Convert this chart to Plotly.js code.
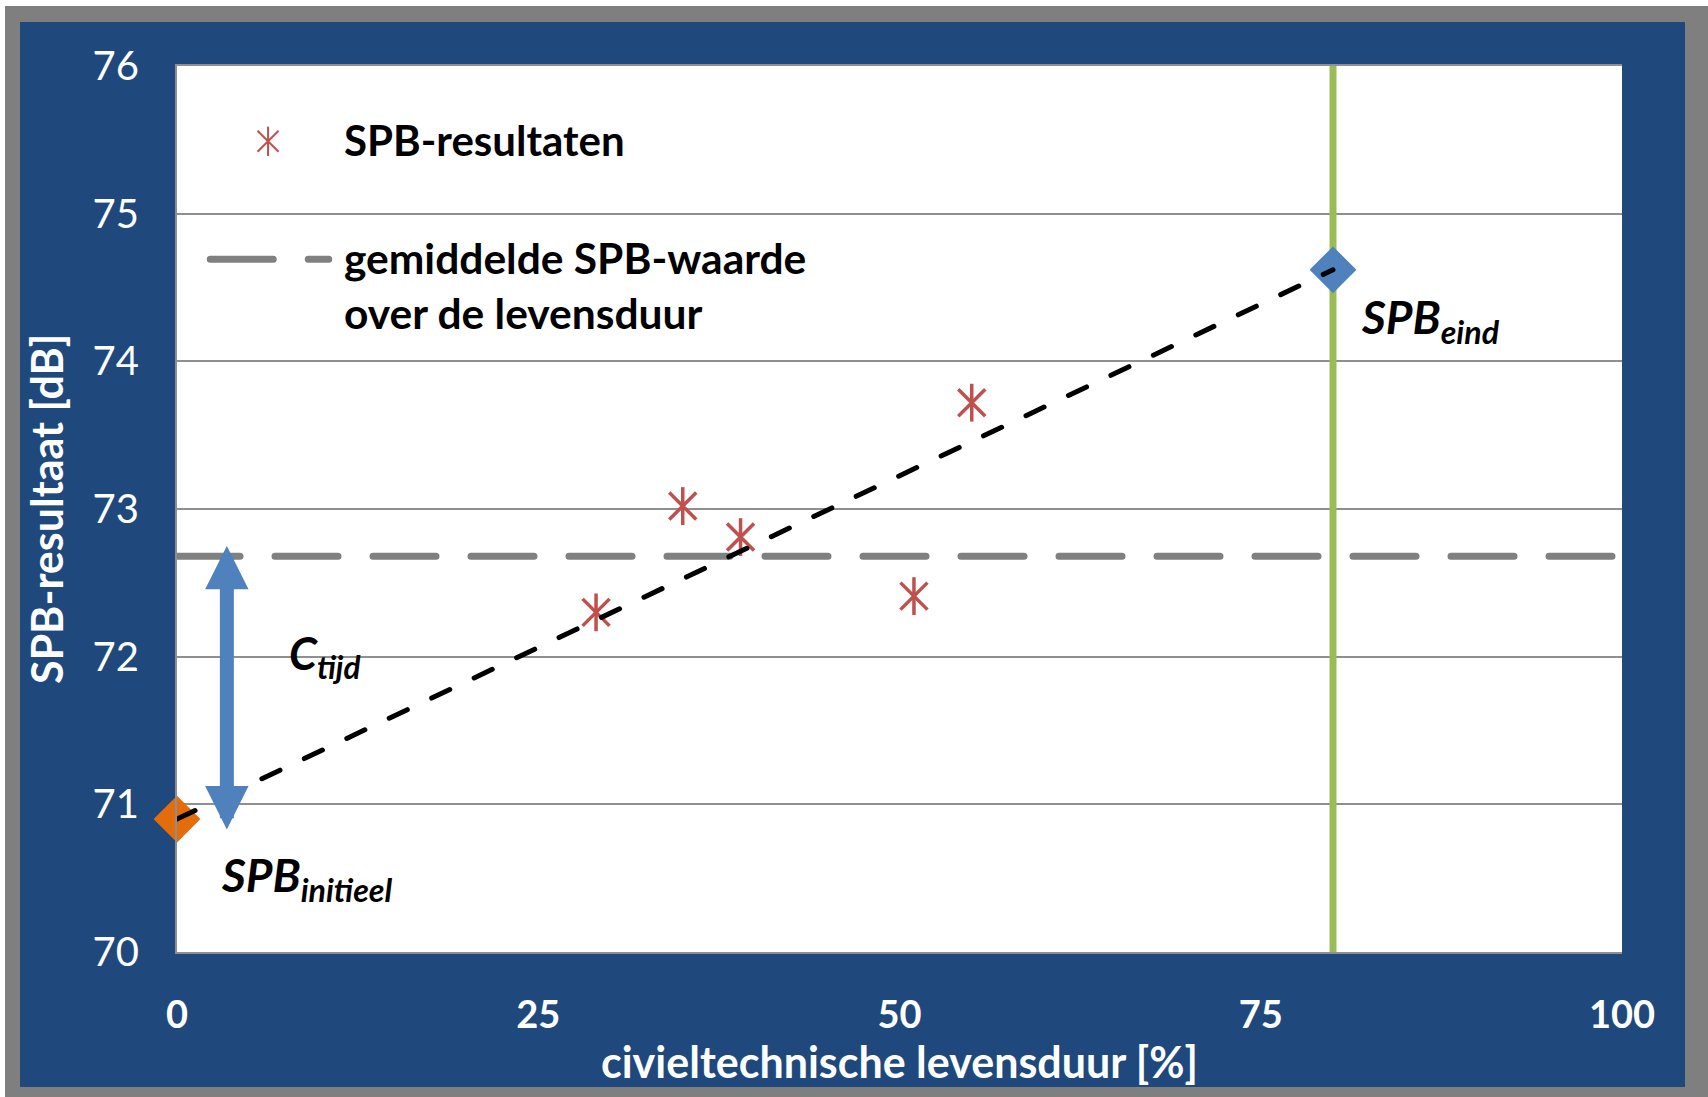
<!DOCTYPE html>
<html>
<head>
<meta charset="utf-8">
<script src="https://cdn.plot.ly/plotly-3.0.1.min.js"></script>
<style>
  html, body { margin: 0; padding: 0; background: #ffffff; width: 1708px; height: 1097px; overflow: hidden; }
  #frame { position: absolute; left: 5px; top: 6px; width: 1703px; height: 1091px; background: #7f7f7f; }
  #chart { position: absolute; left: 20px; top: 22px; width: 1665px; height: 1065px; }
  .js-line { stroke-linecap: round; }
</style>
</head>
<body>
<div id="frame"></div>
<div id="chart"></div>
<script>
// ---- data ----
const resultX = [29, 35, 39, 51, 55];               // civieltechnische levensduur [%]
const resultY = [72.3, 73.02, 72.81, 72.41, 73.72]; // SPB-resultaat [dB]
const initialX = [0];
const initialY = [70.9];
const endX = [80];
const endY = [74.62];
const meanY = 72.68;          // gemiddelde SPB-waarde over de levensduur
const xRange = [0, 100];
const yRange = [70, 76];
const xTicks = [0, 25, 50, 75, 100];
const yTicks = [70, 71, 72, 73, 74, 75, 76];
const arrowX = 3.45;               // C_tijd arrow position
const arrowY = [70.82, 72.75];     // C_tijd arrow tips (bottom, top)
const legendLabels = ['SPB-resultaten', 'gemiddelde SPB-waarde<br>over de levensduur'];

const FONT = 'Lato, "Open Sans", sans-serif';
const RED = '#c0504d';

const traces = [
  { // mean line
    x: xRange, y: [meanY, meanY], mode: 'lines', hoverinfo: 'skip',
    line: { color: '#808080', width: 7, dash: '63px,35px' }, showlegend: false
  },
  { // end of life vertical
    x: [endX[0], endX[0]], y: yRange, mode: 'lines', hoverinfo: 'skip',
    line: { color: '#9bbb59', width: 7 }, showlegend: false
  },
  { // results: X part
    x: resultX, y: resultY, mode: 'markers', name: 'SPB-resultaten',
    marker: { symbol: 'x-thin-open', size: 27, color: RED, line: { color: RED, width: 3.5 } },
    showlegend: false
  },
  { // results: vertical part
    x: resultX, y: resultY, mode: 'markers', hoverinfo: 'skip',
    marker: { symbol: 'line-ns-open', size: 27, color: RED, line: { color: RED, width: 3.5 } },
    showlegend: false
  },
  { // initial
    x: initialX, y: initialY, mode: 'markers', cliponaxis: false,
    marker: { symbol: 'diamond', size: 36, color: '#e46c0a' }, showlegend: false
  },
  { // end
    x: endX, y: endY, mode: 'markers', cliponaxis: false,
    marker: { symbol: 'diamond', size: 36, color: '#4f81bd' }, showlegend: false
  },
  { // trend
    x: [initialX[0], endX[0]], y: [initialY[0], endY[0]], mode: 'lines', hoverinfo: 'skip',
    line: { color: '#000000', width: 5, dash: '20px,27px' }, showlegend: false
  },
  // legend samples on an overlay paper-like axis
  {
    x: [0.063], y: [0.915], xaxis: 'x2', yaxis: 'y2', mode: 'markers', hoverinfo: 'skip',
    marker: { symbol: 'x-thin-open', size: 21, color: RED, line: { color: RED, width: 2 } }, showlegend: false
  },
  {
    x: [0.063], y: [0.915], xaxis: 'x2', yaxis: 'y2', mode: 'markers', hoverinfo: 'skip',
    marker: { symbol: 'line-ns-open', size: 21, color: RED, line: { color: RED, width: 2 } }, showlegend: false
  },
  {
    x: [0.023, 0.105], y: [0.782, 0.782], xaxis: 'x2', yaxis: 'y2', mode: 'lines', hoverinfo: 'skip',
    line: { color: '#808080', width: 7, dash: '63px,35px' }, showlegend: false
  }
];

const layout = {
  width: 1665, height: 1065,
  margin: { l: 157, r: 63, t: 44, b: 135 },
  paper_bgcolor: '#1f497d',
  plot_bgcolor: '#ffffff',
  showlegend: false,
  font: { family: FONT, color: '#ffffff' },
  xaxis: {
    range: xRange, tickvals: xTicks, ticks: '', showgrid: false, zeroline: false,
    showline: true, mirror: true, linecolor: '#8f8f8f', linewidth: 2,
    tickfont: { family: FONT, size: 38, color: '#ffffff', weight: 'bold' },
    ticklabelstandoff: 28,
    automargin: false,
    title: { text: '<b>civieltechnische levensduur [%]</b>', font: { family: FONT, size: 43, color: '#ffffff' }, standoff: 29 }
  },
  yaxis: {
    range: yRange, tickvals: yTicks, ticks: '', showgrid: true, gridcolor: '#8f8f8f', gridwidth: 2, zeroline: false,
    showline: true, linecolor: '#8f8f8f', linewidth: 2,
    tickfont: { family: FONT, size: 40, color: '#ffffff' },
    ticklabelstandoff: 28,
    automargin: false,
    title: { text: '<b>SPB-resultaat [dB]</b>', font: { family: FONT, size: 43, color: '#ffffff' }, standoff: 16 }
  },
  xaxis2: { overlaying: 'x', range: [0, 1], visible: false, fixedrange: true },
  yaxis2: { overlaying: 'y', range: [0, 1], visible: false, fixedrange: true },
  annotations: [
    { xref: 'paper', yref: 'paper', x: 0.1142, y: 0.916, xanchor: 'left', yanchor: 'middle', showarrow: false,
      text: '<b>' + legendLabels[0] + '</b>', font: { family: FONT, size: 42, color: '#000000' } },
    { xref: 'paper', yref: 'paper', x: 0.1142, y: 0.753, xanchor: 'left', yanchor: 'middle', align: 'left', showarrow: false,
      text: '<b>' + legendLabels[1] + '</b>', font: { family: FONT, size: 42.5, color: '#000000' } },
    { xref: 'x', yref: 'y', x: endX[0], y: endY[0], xanchor: 'left', yanchor: 'middle', xshift: 26, yshift: -50, showarrow: false,
      text: '<b><i>SPB</i></b><sub><b><i>eind</i></b></sub>', font: { family: FONT, size: 46, color: '#000000' } },
    { xref: 'x', yref: 'y', x: initialX[0], y: initialY[0], xanchor: 'left', yanchor: 'middle', xshift: 42, yshift: -59, showarrow: false,
      text: '<b><i>SPB</i></b><sub><b><i>initieel</i></b></sub>', font: { family: FONT, size: 46, color: '#000000' } },
    { xref: 'x', yref: 'y', x: arrowX, y: (meanY + initialY[0]) / 2, xanchor: 'left', yanchor: 'middle', xshift: 60, yshift: 32, showarrow: false,
      text: '<b><i>C</i></b><sub><b><i>tijd</i></b></sub>', font: { family: FONT, size: 45, color: '#000000' } },
    { xref: 'x', yref: 'y', axref: 'x', ayref: 'y', x: arrowX, y: arrowY[1], ax: arrowX, ay: arrowY[0],
      text: '', font: { size: 1 }, showarrow: true, arrowside: 'end+start', arrowhead: 2, startarrowhead: 2,
      arrowsize: 0.62, startarrowsize: 0.62, arrowwidth: 14, arrowcolor: '#4f81bd', standoff: 0, startstandoff: 0 }
  ]
};

Plotly.newPlot('chart', traces, layout, { displayModeBar: false, staticPlot: true });
</script>
</body>
</html>
